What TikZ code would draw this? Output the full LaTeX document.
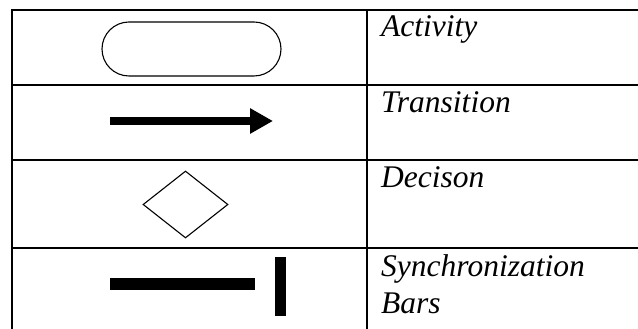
\documentclass[tikz,border=0pt]{standalone}
\usepackage{fontspec}
\setmainfont{Liberation Serif}
\usetikzlibrary{arrows.meta,shapes.geometric}
\begin{document}
\begin{tikzpicture}[x=1pt,y=1pt,
  grid/.style={line width=2pt,line cap=rect},
  label/.style={anchor=base west,inner sep=0pt,font=\fontsize{31.5}{37}\selectfont\itshape,align=left},
  activitybox/.style={draw,line width=1.1pt,rounded corners=27pt,minimum width=179pt,minimum height=54pt,inner sep=0pt},
  decisionbox/.style={draw,diamond,line width=1.1pt,minimum width=85pt,minimum height=67pt,inner sep=0pt},
  barbox/.style={fill=black,inner sep=0pt},
  flow/.style={line width=8pt,-{Triangle[length=23pt,width=24pt]}}]
\useasboundingbox (0,0) rectangle (638,329);
% table rules
\coordinate (tl) at (12,319);
\coordinate (bl) at (12,0);
\coordinate (tm) at (367,319);
\coordinate (bm) at (367,0);
\coordinate (r0l) at (12,319); \coordinate (r0r) at (638,319);
\coordinate (r1l) at (12,244); \coordinate (r1r) at (638,244);
\coordinate (r2l) at (12,169); \coordinate (r2r) at (638,169);
\coordinate (r3l) at (12,81);  \coordinate (r3r) at (638,81);
\draw[grid] (r0l) -- (r0r);
\draw[grid] (r1l) -- (r1r);
\draw[grid] (r2l) -- (r2r);
\draw[grid] (r3l) -- (r3r);
\draw[grid] (tl) -- (bl);
\draw[grid] (tm) -- (bm);
% symbols
\node[activitybox] (act) at (191.5,280) {};
\coordinate (ts) at (110,208);
\coordinate (te) at (273,208);
\draw[flow] (ts) -- (te);
\node[decisionbox] (dec) at (185.5,124.5) {};
\node[barbox,minimum width=145pt,minimum height=12pt] (hbar) at (182.5,45) {};
\node[barbox,minimum width=11pt,minimum height=59pt] (vbar) at (280.5,42.5) {};
% labels
\node[label] (lact) at (381,292) {Activity};
\node[label] (ltra) at (381,216) {Transition};
\node[label] (ldec) at (381,141) {Decison};
\node[label] (lsyn) at (381,15) {Synchronization\\Bars};
\end{tikzpicture}
\end{document}
